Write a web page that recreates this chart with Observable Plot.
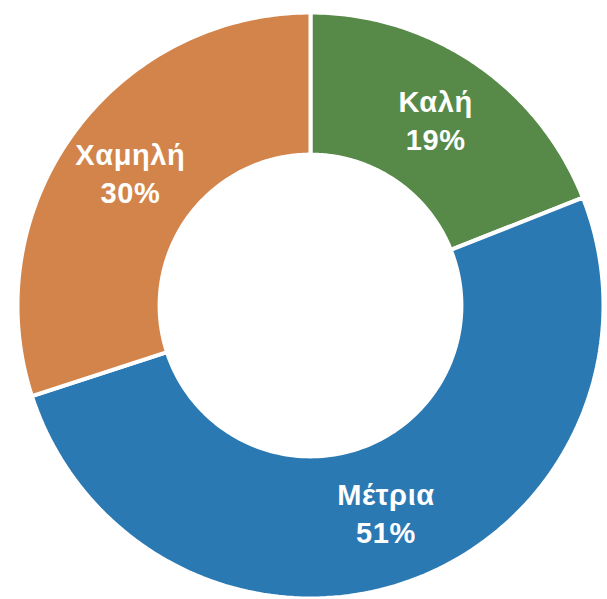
<!DOCTYPE html>
<html>
<head>
<meta charset="utf-8">
<script src="https://cdn.jsdelivr.net/npm/d3@7"></script>
<script src="https://cdn.jsdelivr.net/npm/@observablehq/plot@0.6"></script>
<style>
  html, body { margin: 0; padding: 0; background: #fff; }
  #chart { width: 607px; height: 599px; }
  #chart svg text { letter-spacing: 0.6px; }
</style>
</head>
<body>
<div id="chart"></div>
<script>
const categories = ["Καλή", "Μέτρια", "Χαμηλή"];
const values = [19, 51, 30];
const labels = ["19%", "51%", "30%"];
const colors = ["#578a49", "#2b79b3", "#d2844b"];

const innerR = 0.515;
const labelR = 0.76;

const pie = d3.pie().sort(null).value(d => d.value)(
  categories.map((c, i) => ({ name: c, value: values[i], label: labels[i], color: colors[i] }))
);

// build slice polygons from the pie angles (0 = top, clockwise)
const pts = [];
pie.forEach(s => {
  const n = 120;
  for (let k = 0; k <= n; k++) {
    const a = s.startAngle + (s.endAngle - s.startAngle) * k / n;
    pts.push({ name: s.data.name, x: Math.sin(a), y: Math.cos(a) });
  }
  for (let k = n; k >= 0; k--) {
    const a = s.startAngle + (s.endAngle - s.startAngle) * k / n;
    pts.push({ name: s.data.name, x: innerR * Math.sin(a), y: innerR * Math.cos(a) });
  }
});

const lbls = pie.map((s, i) => {
  const a = (s.startAngle + s.endAngle) / 2;
  return { name: s.data.name, label: s.data.label, x: labelR * Math.sin(a), y: labelR * Math.cos(a) };
});

const chart = Plot.plot({
  width: 607,
  height: 599,
  marginLeft: 17,
  marginRight: 4,
  marginTop: 12,
  marginBottom: 1,
  x: { domain: [-1, 1], axis: null },
  y: { domain: [-1, 1], axis: null },
  color: { domain: categories, range: colors },
  style: { fontFamily: "'Liberation Sans', Arial, sans-serif", background: "#fff" },
  marks: [
    Plot.line(pts, { x: "x", y: "y", z: "name", fill: "name", stroke: "white", strokeWidth: 4, curve: "linear-closed" }),
    Plot.text(lbls, { x: "x", y: "y", text: d => d.name, dy: -19, fill: "white", fontSize: 29, fontWeight: "bold" }),
    Plot.text(lbls, { x: "x", y: "y", text: d => d.label, dy: 19, fill: "white", fontSize: 29, fontWeight: "bold" })
  ]
});
document.getElementById("chart").appendChild(chart);
</script>
</body>
</html>
